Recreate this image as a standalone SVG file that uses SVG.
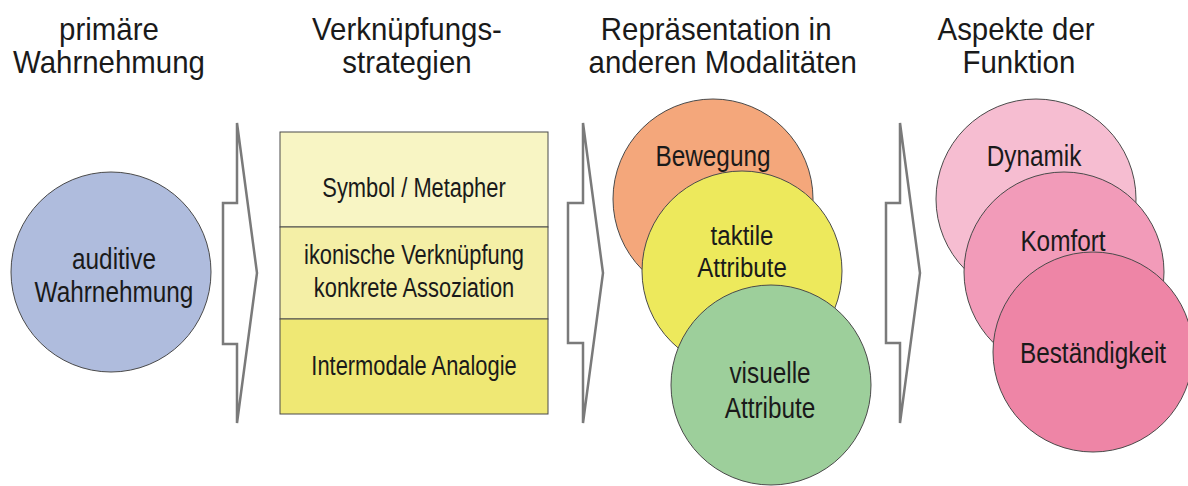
<svg xmlns="http://www.w3.org/2000/svg" width="1188" height="486" viewBox="0 0 1188 486">
  <style>
    text { font-family: "Liberation Sans", Arial, sans-serif; fill: #1a1a1a; text-anchor: middle; }
    .head { font-size: 31px; }
    .ctext { font-size: 29px; }
    .tight { font-size: 28px; }
    .btext { font-size: 27px; }
    .node { stroke: #4a4a4a; stroke-width: 1; }
    .arrow { fill: #ffffff; stroke: #7a7a7a; stroke-width: 2.5; stroke-linejoin: miter; }
  </style>

  <!-- column headings -->
  <g id="headings">
    <g transform="translate(109,0) scale(0.95,1)">
      <text class="head" x="0" y="40">primäre</text>
      <text class="head" x="0" y="73">Wahrnehmung</text>
    </g>
    <g transform="translate(407,0) scale(0.95,1)">
      <text class="head" x="0" y="40">Verknüpfungs-</text>
      <text class="head" x="0" y="73">strategien</text>
    </g>
    <g transform="translate(719,0) scale(0.95,1)">
      <text class="head" x="-3" y="40">Repräsentation in</text>
      <text class="head" x="4" y="73">anderen Modalitäten</text>
    </g>
    <g transform="translate(1017,0) scale(0.95,1)">
      <text class="head" x="-1" y="40">Aspekte der</text>
      <text class="head" x="2" y="73">Funktion</text>
    </g>
  </g>

  <!-- block arrows between the columns -->
  <g id="connectors">
    <polygon class="arrow" points="237,123 257,273 237,423 237,344 223,344 223,203 237,203"/>
    <polygon class="arrow" points="583,123 603,273 583,423 583,343 568,343 568,203 583,203"/>
    <polygon class="arrow" points="900,123 920,273 900,423 900,343 886,343 886,203 900,203"/>
  </g>

  <g id="auditive">
    <circle class="node" cx="111" cy="272" r="100" fill="#afbcdd"/>
    <g transform="translate(114,0) scale(0.84,1)">
      <text class="ctext" x="0" y="269">auditive</text>
      <text class="ctext" x="0" y="302">Wahrnehmung</text>
    </g>
  </g>

  <g id="strategien">
    <rect class="node" x="280" y="132" width="268" height="95" fill="#f8f5c4"/>
    <rect class="node" x="280" y="227" width="268" height="92" fill="#f4efa6"/>
    <rect class="node" x="280" y="319" width="268" height="95" fill="#efe874"/>
    <g transform="translate(414,0) scale(0.81,1)">
      <text class="btext" x="0" y="197">Symbol / Metapher</text>
      <text class="btext" x="0" y="264">ikonische Verknüpfung</text>
      <text class="btext" x="0" y="297">konkrete Assoziation</text>
      <text class="btext" x="0" y="375">Intermodale Analogie</text>
    </g>
  </g>

  <g id="bewegung">
    <circle class="node" cx="713" cy="199" r="100" fill="#f4a77b"/>
    <g transform="translate(713,0) scale(0.84,1)">
      <text class="ctext" x="0" y="166">Bewegung</text>
    </g>
  </g>

  <g id="taktil">
    <circle class="node" cx="742" cy="271" r="100" fill="#ede95c"/>
    <g transform="translate(742,0) scale(0.86,1)">
      <text class="tight" x="0" y="245">taktile</text>
      <text class="tight" x="0" y="277">Attribute</text>
    </g>
  </g>

  <g id="visuell">
    <circle class="node" cx="771" cy="385" r="100" fill="#9dcf9b"/>
    <g transform="translate(770,0) scale(0.84,1)">
      <text class="ctext" x="0" y="383">visuelle</text>
      <text class="ctext" x="0" y="418">Attribute</text>
    </g>
  </g>

  <g id="dynamik">
    <circle class="node" cx="1036" cy="199" r="100" fill="#f6bdd1"/>
    <g transform="translate(1034,0) scale(0.84,1)">
      <text class="ctext" x="0" y="166">Dynamik</text>
    </g>
  </g>

  <g id="komfort">
    <circle class="node" cx="1064" cy="272" r="100" fill="#f29bb9"/>
    <g transform="translate(1063,0) scale(0.84,1)">
      <text class="ctext" x="0" y="251">Komfort</text>
    </g>
  </g>

  <g id="bestaendigkeit">
    <circle class="node" cx="1093" cy="352" r="100" fill="#ee85a6"/>
    <g transform="translate(1093,0) scale(0.84,1)">
      <text class="ctext" x="0" y="363">Beständigkeit</text>
    </g>
  </g>
</svg>
